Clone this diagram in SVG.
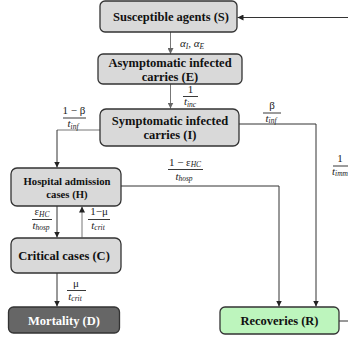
<svg xmlns="http://www.w3.org/2000/svg" width="348" height="341" viewBox="0 0 348 341">
<defs>
<marker id="ah" viewBox="0 0 8 8" refX="8" refY="4" markerWidth="6" markerHeight="6" markerUnits="userSpaceOnUse" orient="auto">
<path d="M0,0 L8,4 L0,8 Z" fill="#222"/>
</marker>
<marker id="ahg" viewBox="0 0 8 8" refX="8" refY="4" markerWidth="6" markerHeight="6" markerUnits="userSpaceOnUse" orient="auto">
<path d="M0,0 L8,4 L0,8 Z" fill="#666"/>
</marker>
</defs>
<style>
.box{fill:#d9d9d9;stroke:#333;stroke-width:1.3}
.lbl{font-family:"Liberation Serif","Times New Roman",serif;font-weight:bold;font-size:12.5px;fill:#111;text-anchor:middle}
.sm{font-size:10.7px}
.m{font-family:"Liberation Serif","Times New Roman",serif;font-size:11px;fill:#222;text-anchor:middle}
.it{font-style:italic}
.sub{font-size:7.5px;font-style:italic}
.c{fill:none;stroke:#333;stroke-width:1}
.cg{fill:none;stroke:#777;stroke-width:1}
.fr{stroke:#222;stroke-width:0.9}
</style>
<g id="connectors">
<path class="cg" d="M170.5,32 V54" marker-end="url(#ahg)"/>
<path class="cg" d="M170.5,84 V108.5" marker-end="url(#ahg)"/>
<path class="cg" d="M100,130 H57"/>
<path class="c" d="M57,130 V167.5" marker-end="url(#ah)"/>
<path class="c" d="M239,124 H316 V306.5" marker-end="url(#ah)"/>
<path class="c" d="M121,186 H279 V306.5" marker-end="url(#ah)"/>
<path class="c" d="M57,206 V237.5" marker-end="url(#ah)"/>
<path class="cg" d="M82,237.5 V206.5" marker-end="url(#ah)"/>
<path class="c" d="M57,272 V306.5" marker-end="url(#ah)"/>
<path class="c" d="M339,321 H360 V17.5 H237.5" marker-end="url(#ah)"/>
<!-- labels -->
<text class="m it" x="192" y="47">α<tspan class="sub" dy="2">I</tspan><tspan dy="-2">, α</tspan><tspan class="sub" dy="2">E</tspan></text>
<text class="m" x="190.5" y="93">1</text>
<line class="fr" x1="183" y1="96.5" x2="198" y2="96.5"/>
<text class="m it" x="190" y="105">t<tspan class="sub" dy="1.5">inc</tspan></text>
<text class="m" x="74" y="113.5">1 − β</text>
<line class="fr" x1="63" y1="118" x2="86" y2="118"/>
<text class="m it" x="73" y="127">t<tspan class="sub" dy="1.5">inf</tspan></text>
<text class="m" x="272" y="108.5">β</text>
<line class="fr" x1="263" y1="113" x2="281" y2="113"/>
<text class="m it" x="271" y="121.5">t<tspan class="sub" dy="1.5">inf</tspan></text>
<text class="m" x="185" y="165.5">1 − ε<tspan class="sub" dy="1.5">HC</tspan></text>
<line class="fr" x1="168" y1="169.5" x2="203" y2="169.5"/>
<text class="m it" x="184" y="179.5">t<tspan class="sub" dy="1.5">hosp</tspan></text>
<text class="m" x="340" y="161.5">1</text>
<line class="fr" x1="333" y1="166" x2="348" y2="166"/>
<text class="m it" x="332" y="174.5" style="text-anchor:start">t<tspan class="sub" dy="1.5">imm</tspan></text>
<text class="m" x="42" y="215">ε<tspan class="sub" dy="1.5">HC</tspan></text>
<line class="fr" x1="32" y1="219.5" x2="52" y2="219.5"/>
<text class="m it" x="41" y="228.5">t<tspan class="sub" dy="1.5">hosp</tspan></text>
<text class="m" x="99" y="215">1−μ</text>
<line class="fr" x1="88" y1="219.5" x2="110" y2="219.5"/>
<text class="m it" x="98" y="228.5">t<tspan class="sub" dy="1.5">crit</tspan></text>
<text class="m" x="76" y="287">μ</text>
<line class="fr" x1="67" y1="290.5" x2="86" y2="290.5"/>
<text class="m it" x="75" y="299.5">t<tspan class="sub" dy="1.5">crit</tspan></text>
</g>
<g id="S">
<rect class="box" x="100" y="1" width="137" height="31" rx="5"/>
<text class="lbl" x="171" y="21">Susceptible agents (S)</text>
</g>
<g id="E">
<rect class="box" x="98" y="54" width="144" height="30" rx="5"/>
<text class="lbl" x="170" y="67">Asymptomatic infected</text>
<text class="lbl" x="170" y="81">carries (E)</text>
</g>
<g id="I">
<rect class="box" x="100" y="109" width="139" height="37" rx="6"/>
<text class="lbl" x="170" y="125">Symptomatic infected</text>
<text class="lbl" x="170" y="139">carries (I)</text>
</g>
<g id="H">
<rect class="box" x="11" y="168" width="110" height="38" rx="6"/>
<text class="lbl sm" x="67" y="185">Hospital admission</text>
<text class="lbl sm" x="67" y="198">cases (H)</text>
</g>
<g id="C">
<rect class="box" x="11" y="238" width="110" height="35" rx="6"/>
<text class="lbl" x="64" y="260">Critical cases (C)</text>
</g>
<g id="D">
<rect x="8.5" y="307" width="111" height="26" rx="5" fill="#666" stroke="#333" stroke-width="1.3"/>
<text class="lbl" x="64" y="324.5" style="fill:#fff">Mortality (D)</text>
</g>
<g id="R">
<rect x="220" y="307" width="119" height="27" rx="5" fill="#bdf5bd" stroke="#333" stroke-width="1.3"/>
<text class="lbl" x="279.5" y="325">Recoveries (R)</text>
</g>
</svg>
